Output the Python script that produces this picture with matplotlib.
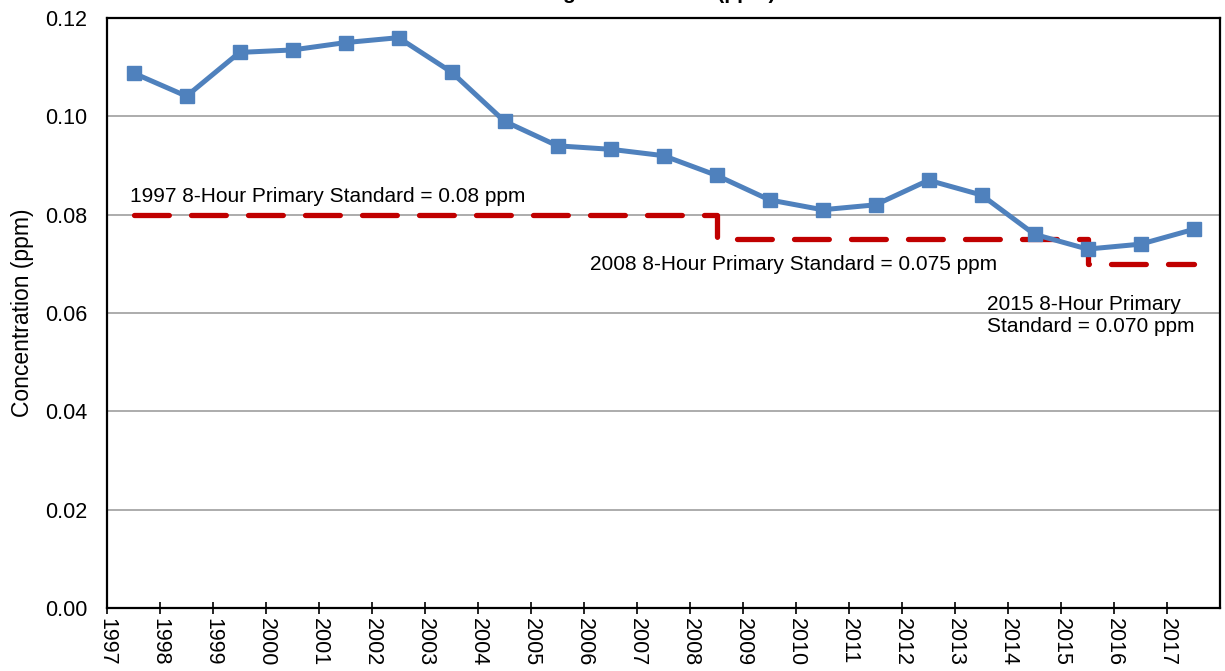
import numpy as np
import matplotlib
matplotlib.use("Agg")
import matplotlib.pyplot as plt

plt.rcParams['font.family'] = ['Liberation Sans', 'DejaVu Sans']

years = list(range(1997, 2018))
conc = [0.1088, 0.1041, 0.1130, 0.1135, 0.1150, 0.1160, 0.1090, 0.0990,
        0.0940, 0.0933, 0.0920, 0.0880, 0.0830, 0.0810, 0.0820, 0.0870,
        0.0840, 0.0760, 0.0730, 0.0740, 0.0770]
# standard in effect for each year
standard = [0.080] * 11 + [0.075] * 7 + [0.070] * 3

std_labels = [
    "1997 8-Hour Primary Standard = 0.08 ppm",
    "2008 8-Hour Primary Standard = 0.075 ppm",
    "2015 8-Hour Primary\nStandard = 0.070 ppm",
]
title = "Ozone Design Value Trend (ppm)"

fig = plt.figure(figsize=(12.25, 6.71), dpi=100)
ax = fig.add_axes([107 / 1225, 1 - 608 / 671, (1220 - 107) / 1225, (608 - 18) / 671])

x = np.arange(len(years)) + 0.5
ax.plot(x, standard, drawstyle='steps-post', color='#C00000', lw=3.8,
        dashes=(6.6, 4.2), dash_capstyle='round', solid_joinstyle='miter', zorder=3)
ax.plot(x, conc, color='#4F81BD', lw=3.6, marker='s', ms=10, zorder=4)

ax.set_xlim(0, len(years))
ax.set_ylim(0, 0.12)
ax.set_yticks(np.arange(0, 0.1201, 0.02))
ax.set_yticklabels([f"{v:.2f}" for v in np.arange(0, 0.1201, 0.02)], fontsize=15.5)
ax.set_xticks(np.arange(len(years)))
ax.set_xticklabels([str(y) for y in years], rotation=-90, fontsize=15.5)
ax.tick_params(axis='y', length=0, pad=14)
ax.tick_params(axis='x', direction='inout', length=9, width=1.2, pad=3)
ax.grid(axis='y', color='#A6A6A6', lw=1.3, zorder=0)
ax.set_axisbelow(True)
for s in ax.spines.values():
    s.set_linewidth(1.6)
    s.set_color('black')
ax.set_ylabel("Concentration (ppm)", fontsize=16.5, labelpad=8)

ax.text(0.43, 0.0836, std_labels[0], fontsize=15, va='center', ha='left')
ax.text(9.11, 0.0698, std_labels[1], fontsize=15, va='center', ha='left')
ax.text(16.6, 0.0637, std_labels[2], fontsize=15, va='top', ha='left', linespacing=1.2)

# title sits mostly above the canvas, as in the source image
fig.text(0.5, 1 + 1 / 671, title, fontsize=15, fontweight='bold', ha='center', va='baseline')

fig.savefig("out.png", dpi=100)
